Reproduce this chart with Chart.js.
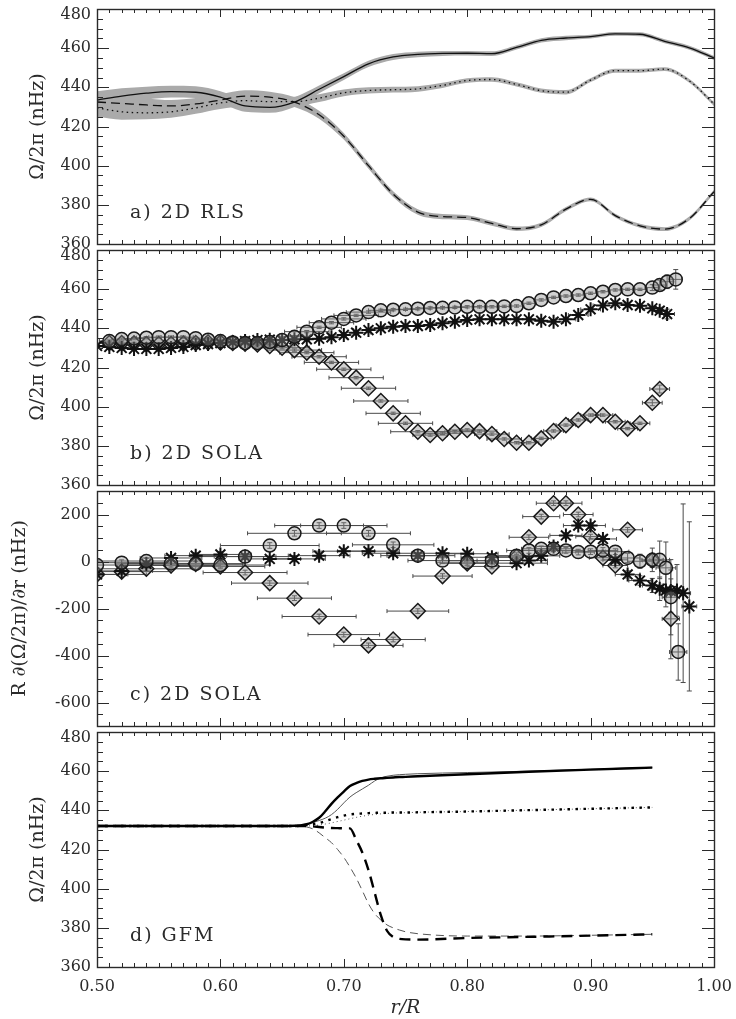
<!DOCTYPE html>
<html>
<head>
<meta charset="utf-8">
<script src="https://cdn.jsdelivr.net/npm/chart.js@4.4.1/dist/chart.umd.min.js"></script>
<style>
html,body{margin:0;padding:0;background:#fff;}
#wrap{position:relative;width:736px;height:1019px;overflow:hidden;background:#fff;}
#wrap canvas{position:absolute;left:0;}
</style>
</head>
<body>
<div id="wrap">
<canvas id="cA" width="736" height="256" style="top:0px"></canvas>
<canvas id="cB" width="736" height="258" style="top:238px"></canvas>
<canvas id="cC" width="736" height="259" style="top:479px"></canvas>
<canvas id="cD" width="736" height="299" style="top:720px"></canvas>
</div>
<script>
// ---------------- tick labels ----------------
const xTickVals = [0.50, 0.60, 0.70, 0.80, 0.90, 1.00];
const yTickOmega = [360, 380, 400, 420, 440, 460, 480];
const yTickDeriv = [-600, -400, -200, 0, 200];

// ---------------- panel a) 2D RLS ----------------
const rA = [0.50,0.52,0.54,0.56,0.58,0.60,0.62,0.64,0.66,0.68,0.70,0.72,0.74,0.76,0.78,0.80,0.82,0.84,0.86,0.88,0.90,0.92,0.94,0.96,0.98,1.00];
const solidA  = [433.5,435.5,437,437.8,437.5,435,430.5,429.8,432.5,439,445.5,452,455.5,456.8,457.3,457.4,457.2,460.4,464,465.2,465.9,467.3,467.1,463.5,460.2,455];
const dottedA = [429.5,427.5,427,427.5,429.5,432,433.2,432.7,432.7,434.5,437.2,438.4,438.8,439.2,441,443.5,444,441.5,438.3,437.5,443.7,448.5,448.5,449.3,443.3,431.5];
const dashedA = [432.5,431.8,431,430.5,431.5,433.5,435.5,435,432.5,426,415,400,385.5,376.3,374,373.5,370.5,367.8,369.8,377.8,382.8,374.5,369.3,367.6,373,386.7];
const sigmaA  = [4.5,4,3.3,3,3,3,3,2.8,2.5,2,1.7,1.6,1.5,1.4,1.3,1.2,1.2,1.1,1.1,1.1,1.0,1.0,1.0,1.0,1.0,1.0];

// ---------------- panel b) 2D SOLA rotation ----------------
const rCircB = [0.51,0.52,0.53,0.54,0.55,0.56,0.57,0.58,0.59,0.60,0.61,0.62,0.63,0.64,0.65,0.66,0.67,0.68,0.69,0.70,0.71,0.72,0.73,0.74,0.75,0.76,0.77,0.78,0.79,0.80,0.81,0.82,0.83,0.84,0.85,0.86,0.87,0.88,0.89,0.90,0.91,0.92,0.93,0.94,0.95,0.956,0.962,0.969];
const circB  = [433.5,434.5,434.8,435.2,435.5,435.5,435.5,435,434.2,433.5,432.8,432.5,432.5,433,434,435.7,438.3,440.5,442.9,444.8,446.6,448.3,449.2,449.5,449.7,450,450.4,450.5,450.7,451,451,451,451.2,451.4,452.8,454.5,455.8,456.5,457,457.9,458.7,459.6,459.9,459.9,460.8,462.1,463.8,465];
const xErrCircB = [0.008,0.008,0.008,0.008,0.008,0.008,0.008,0.008,0.008,0.008,0.008,0.008,0.008,0.012,0.012,0.012,0.018,0.018,0.018,0.018,0.018,0.018,0.01,0.01,0.01,0.01,0.01,0.01,0.01,0.01,0.006,0.006,0.006,0.006,0.006,0.006,0.006,0.006,0.006,0.006,0.006,0.006,0.006,0.006,0.006,0.005,0.005,0.005];
const yErrCircB = [0.6,0.6,0.6,0.6,0.6,0.6,0.6,0.6,0.6,0.6,0.6,0.6,0.6,0.6,0.6,0.6,0.6,0.6,0.6,0.6,0.6,0.6,0.6,0.6,0.6,0.6,0.6,0.6,0.6,0.6,0.6,0.6,0.6,0.6,0.6,0.6,0.6,0.6,0.6,0.6,0.6,0.6,0.6,0.6,1.5,2.5,3.5,5];

const rStarB = [0.50,0.51,0.52,0.53,0.54,0.55,0.56,0.57,0.58,0.59,0.60,0.61,0.62,0.63,0.64,0.65,0.66,0.67,0.68,0.69,0.70,0.71,0.72,0.73,0.74,0.75,0.76,0.77,0.78,0.79,0.80,0.81,0.82,0.83,0.84,0.85,0.86,0.87,0.88,0.89,0.90,0.91,0.92,0.93,0.94,0.95,0.956,0.962];
const starB  = [431,430.5,430,429.5,429.5,429.5,430,430.5,431.5,432,432.5,433,433.5,434,434.2,434,434.4,434.4,434.7,435.4,436.6,437.8,439.1,440,440.8,441.2,441.2,441.7,442.6,443.4,444.3,444.6,444.6,444.6,444.6,444.6,443.9,443.4,444.6,446.8,449.7,451.7,452.8,451.9,451.5,450.2,449,447.3];
const xErrStarB = [0.008,0.008,0.008,0.008,0.008,0.008,0.008,0.008,0.008,0.008,0.008,0.008,0.008,0.008,0.012,0.012,0.012,0.012,0.012,0.012,0.012,0.012,0.012,0.008,0.008,0.008,0.008,0.008,0.008,0.008,0.008,0.008,0.008,0.008,0.008,0.008,0.008,0.008,0.008,0.008,0.008,0.008,0.008,0.008,0.008,0.008,0.006,0.006];
const yErrStarB = [0.6,0.6,0.6,0.6,0.6,0.6,0.6,0.6,0.6,0.6,0.6,0.6,0.6,0.6,0.6,0.6,0.6,0.6,0.6,0.6,0.6,0.6,0.6,0.6,0.6,0.6,0.6,0.6,0.6,0.6,0.6,0.6,0.6,0.6,0.6,0.6,0.6,0.6,0.6,0.6,0.6,0.6,0.6,0.6,0.6,1.0,1.5,2.5];

const rDiaB = [0.51,0.52,0.53,0.54,0.55,0.56,0.57,0.58,0.59,0.60,0.61,0.62,0.63,0.64,0.65,0.66,0.67,0.68,0.69,0.70,0.71,0.72,0.73,0.74,0.75,0.76,0.77,0.78,0.79,0.80,0.81,0.82,0.83,0.84,0.85,0.86,0.87,0.88,0.89,0.90,0.91,0.92,0.93,0.94,0.95,0.956];
const diaB  = [432.5,432.5,432.3,432,432,432,432.2,432.5,432.8,432.8,432.5,432.2,431.8,431,430.1,428.9,427.6,425.5,422.6,419.1,414.8,409.4,402.9,396.6,391.5,387.2,385.5,386.4,387.2,388.1,387.5,386,383.5,381.6,381.6,383.8,387.6,390.6,393.2,395.7,395.7,392.3,388.8,391.5,402,409];
const xErrDiaB = [0.01,0.01,0.01,0.01,0.01,0.01,0.01,0.01,0.01,0.01,0.01,0.018,0.018,0.018,0.022,0.022,0.022,0.022,0.022,0.022,0.022,0.022,0.022,0.022,0.022,0.022,0.014,0.014,0.014,0.014,0.014,0.014,0.014,0.008,0.008,0.008,0.008,0.008,0.008,0.008,0.008,0.008,0.008,0.008,0.008,0.008];
const yErrDiaB = [0.6,0.6,0.6,0.6,0.6,0.6,0.6,0.6,0.6,0.6,0.6,0.6,0.6,0.6,0.6,0.6,0.6,0.6,0.6,0.6,0.6,0.6,0.6,0.6,0.6,0.6,0.6,0.6,0.6,0.6,0.6,0.6,0.6,0.6,0.6,0.6,0.6,0.6,0.6,0.6,0.6,0.6,0.6,0.6,1.5,2];

// ---------------- panel c) 2D SOLA radial gradient ----------------
const rCircC = [0.50,0.52,0.54,0.56,0.58,0.60,0.62,0.64,0.66,0.68,0.70,0.72,0.74,0.76,0.78,0.80,0.82,0.84,0.85,0.86,0.87,0.88,0.89,0.90,0.91,0.92,0.93,0.94,0.95,0.956,0.961,0.965,0.971];
const circC  = [-15,-5,2,-8,-10,-15,21,68,120,153,153,120,71,25,4,-3,4,25,47,54,54,47,40,42,47,42,15,1,7,7,-27,-152,-385];
const xErrCircC = [0.04,0.04,0.04,0.04,0.04,0.04,0.04,0.04,0.038,0.036,0.035,0.034,0.033,0.03,0.028,0.025,0.022,0.02,0.018,0.016,0.015,0.014,0.013,0.012,0.012,0.011,0.01,0.01,0.009,0.008,0.008,0.007,0.007];
const yErrCircC = [12,12,12,12,12,12,12,12,12,12,12,12,12,12,12,12,12,12,12,12,12,12,12,12,12,12,20,30,50,80,110,160,120];

const rDiaC = [0.50,0.52,0.54,0.56,0.58,0.60,0.62,0.64,0.66,0.68,0.70,0.72,0.74,0.76,0.78,0.80,0.82,0.84,0.85,0.86,0.87,0.88,0.89,0.90,0.91,0.92,0.93,0.95,0.965];
const diaC  = [-55,-43,-31,-17,-10,-21,-47,-92,-156,-234,-311,-357,-332,-211,-62,-8,-21,20,103,191,248,248,200,106,16,-17,135,5,-244];
const xErrDiaC = [0.04,0.04,0.04,0.04,0.038,0.036,0.034,0.031,0.03,0.03,0.029,0.028,0.026,0.025,0.024,0.022,0.02,0.018,0.016,0.015,0.014,0.013,0.012,0.012,0.011,0.01,0.012,0.008,0.007];
const yErrDiaC = [10,10,10,10,10,10,10,10,10,10,10,10,10,10,10,10,10,10,10,10,10,10,10,10,10,10,10,30,170];

const rStarC = [0.50,0.52,0.54,0.56,0.58,0.60,0.62,0.64,0.66,0.68,0.70,0.72,0.74,0.76,0.78,0.80,0.82,0.84,0.85,0.86,0.87,0.88,0.89,0.90,0.91,0.92,0.93,0.94,0.95,0.956,0.961,0.965,0.97,0.975,0.98];
const starC  = [-55,-40,-10,15,25,30,21,11,11,25,44,44,35,25,35,33,18,-7,4,24,64,111,153,153,96,7,-55,-81,-102,-116,-123,-126,-123,-135,-191];
const xErrStarC = [0.025,0.025,0.025,0.025,0.025,0.025,0.025,0.025,0.025,0.025,0.025,0.025,0.025,0.025,0.025,0.025,0.025,0.025,0.015,0.015,0.014,0.013,0.012,0.012,0.011,0.01,0.01,0.009,0.008,0.008,0.007,0.007,0.006,0.006,0.006];
const yErrStarC = [12,12,12,12,12,12,12,12,12,12,12,12,12,12,12,12,12,12,12,12,12,12,12,12,12,12,15,20,30,50,70,90,110,380,360];

// ---------------- panel d) GFM ----------------
const rD = [0.50,0.60,0.65,0.66,0.665,0.67,0.675,0.68,0.685,0.69,0.695,0.70,0.705,0.71,0.715,0.72,0.725,0.73,0.735,0.74,0.745,0.75,0.76,0.80,0.85,0.90,0.95];
const solidThickD  = [432,432,432,432.1,432.3,432.9,434.2,436.2,439.5,443.3,446.6,449.6,452.4,453.9,455,455.7,456.1,456.4,456.6,456.8,457,457.1,457.4,458.4,459.7,460.8,461.8];
const solidThinD   = [432,432,432,432.2,432.5,433,433.8,434.8,436,437.8,440.5,443.8,446.8,449,450.9,452.8,455,456.6,457.4,457.9,458.2,458.4,458.7,459.3,460,461,462];
const dottedThickD = [432,432,432,432,432.1,432.5,433,433.5,434.5,435.5,436.5,437.3,437.9,438.2,438.4,438.6,438.7,438.8,438.8,438.9,438.9,438.9,439,439.4,440.1,440.8,441.5];
const dottedThinD  = [432,432,432,432,432,432,432.2,432.5,433,433.6,434.3,435,435.7,436.4,437,437.5,437.9,438.2,438.4,438.6,438.7,438.8,439,439.4,440.1,440.8,441.5];
const dashedThickD = [432,432,432,432,432,432,431.8,431.5,431.2,431,430.9,430.8,430.8,425,418.5,409.5,398,386.5,378.5,375.3,374.4,374.1,374,374.8,375.4,376,376.7];
const dashedThinD  = [432,432,432,432,432,431.5,430.5,428.5,426,423.5,420,416,411,405.5,399,392.3,387.3,384,381.5,380,378.9,378,377,375.8,375.8,376.2,376.7];

// ---------------- helpers / plugins ----------------
const FONT = 'DejaVu Serif';
const TXT = '#2b2b2b';
const pts = (xs, ys) => xs.map((x, i) => ({x: x, y: ys[i]}));

const framePlugin = {
  id: 'frame',
  afterDraw(chart, args, opts) {
    const {ctx, chartArea: a} = chart;
    const x = chart.scales.x, y = chart.scales.y;
    ctx.save();
    ctx.strokeStyle = '#2a2a2a';
    ctx.lineWidth = 1;
    ctx.beginPath();
    const i0 = Math.round(x.min * 100), i1 = Math.round(x.max * 100);
    for (let i = i0; i <= i1; i++) {
      const px = Math.round(x.getPixelForValue(i / 100)) + 0.5;
      const len = (i % 10 === 0) ? 8 : 4;
      ctx.moveTo(px, a.bottom); ctx.lineTo(px, a.bottom - len);
      ctx.moveTo(px, a.top); ctx.lineTo(px, a.top + len);
    }
    const mn = opts.minor, mj = opts.major;
    for (let v = y.min; v <= y.max + 1e-6; v += mn) {
      const py = Math.round(y.getPixelForValue(v)) + 0.5;
      const isMajor = Math.abs(((v % mj) + mj) % mj) < 1e-6;
      const len = isMajor ? 12 : 6;
      ctx.moveTo(a.left, py); ctx.lineTo(a.left + len, py);
      ctx.moveTo(a.right, py); ctx.lineTo(a.right - len, py);
    }
    ctx.stroke();
    ctx.lineWidth = 1.4;
    ctx.strokeRect(Math.round(a.left) + 0.5, Math.round(a.top) + 0.5, Math.round(a.width), Math.round(a.height));
    ctx.restore();
  }
};

const errPlugin = {
  id: 'errbars',
  beforeDatasetsDraw(chart) {
    const {ctx, chartArea: a} = chart;
    const x = chart.scales.x, y = chart.scales.y;
    ctx.save();
    ctx.beginPath(); ctx.rect(a.left, a.top, a.width, a.height); ctx.clip();
    ctx.strokeStyle = '#4a4a4a';
    ctx.lineWidth = 1;
    chart.data.datasets.forEach(ds => {
      if (!ds.xErr) return;
      ds.data.forEach((p, i) => {
        const px = x.getPixelForValue(p.x), py = y.getPixelForValue(p.y);
        const x0 = x.getPixelForValue(p.x - ds.xErr[i]), x1 = x.getPixelForValue(p.x + ds.xErr[i]);
        const y0 = y.getPixelForValue(p.y - ds.yErr[i]), y1 = y.getPixelForValue(p.y + ds.yErr[i]);
        ctx.beginPath();
        ctx.moveTo(x0, py); ctx.lineTo(x1, py);
        ctx.moveTo(x0, py - 2); ctx.lineTo(x0, py + 2);
        ctx.moveTo(x1, py - 2); ctx.lineTo(x1, py + 2);
        ctx.moveTo(px, y0); ctx.lineTo(px, y1);
        ctx.moveTo(px - 2.5, y0); ctx.lineTo(px + 2.5, y0);
        ctx.moveTo(px - 2.5, y1); ctx.lineTo(px + 2.5, y1);
        ctx.stroke();
      });
    });
    ctx.restore();
  }
};

const labelPlugin = {
  id: 'panelLabel',
  afterDraw(chart, args, opts) {
    if (!opts.text) return;
    const {ctx, chartArea: a} = chart;
    ctx.save();
    ctx.font = '19px "' + FONT + '"';
    ctx.fillStyle = TXT;
    ctx.textBaseline = 'middle';
    ctx.textAlign = 'left';
    try { ctx.letterSpacing = '2px'; } catch (e) {}
    ctx.fillText(opts.text, a.left + 33, a.bottom - 31);
    ctx.restore();
  }
};

Chart.register(framePlugin, errPlugin, labelPlugin);

function xScale(show) {
  return {
    type: 'linear', min: 0.5, max: 1.0, display: show,
    afterBuildTicks: s => { s.ticks = xTickVals.map(v => ({value: v})); },
    afterFit: s => { if (show) { s.height = 52; } else { s.height = 0; } s.paddingLeft = 0; s.paddingRight = 0; },
    grid: {display: false, drawTicks: false},
    border: {display: false},
    ticks: {font: {family: FONT, size: 16}, color: TXT, padding: 10, maxRotation: 0, autoSkip: false,
            callback: v => Number(v).toFixed(2)},
    title: {display: show, text: 'r/R', font: {family: FONT, size: 19, style: 'italic'}, color: TXT,
            padding: {top: 0, bottom: 0}}
  };
}
function yScale(min, max, tickVals, title, titlePad) {
  return {
    type: 'linear', min: min, max: max,
    afterBuildTicks: s => { s.ticks = tickVals.map(v => ({value: v})); },
    afterFit: s => { s.width = 97; s.paddingTop = 0; s.paddingBottom = 0; },
    grid: {display: false, drawTicks: false},
    border: {display: false},
    ticks: {font: {family: FONT, size: 16, lineHeight: 0.75}, color: TXT, padding: 6,
            callback: v => (v === max ? ['', String(v)] : String(v))},
    title: {display: true, text: title, font: {family: FONT, size: 19}, color: TXT,
            padding: {top: titlePad, bottom: 0}}
  };
}
function opts(p) {
  return {
    responsive: false, animation: false, devicePixelRatio: 1,
    layout: {padding: {left: 0, right: 22, top: p.padTop, bottom: p.padBottom}},
    plugins: {
      legend: {display: false}, tooltip: {enabled: false},
      panelLabel: {text: p.label},
      frame: {minor: p.minor, major: p.major}
    },
    elements: {line: {cubicInterpolationMode: 'monotone'}},
    scales: {x: xScale(p.showX), y: yScale(p.yMin, p.yMax, p.yTicks, p.yTitle, p.titlePad)}
  };
}

// ---------------- panel a ----------------
function bandSets(vals) {
  const up = vals.map((v, i) => v + sigmaA[i]);
  const lo = vals.map((v, i) => v - sigmaA[i]);
  return [
    {data: pts(rA, up), borderWidth: 0, pointRadius: 0, fill: false, order: 10},
    {data: pts(rA, lo), borderWidth: 0, pointRadius: 0, fill: '-1', backgroundColor: '#aaaaaa', order: 10}
  ];
}
const lineA = (vals, dash) => ({data: pts(rA, vals), borderColor: '#111', borderWidth: 1.3, borderDash: dash,
  pointRadius: 0, fill: false, order: 1});
new Chart(document.getElementById('cA'), {
  type: 'line',
  data: {datasets: [
    ...bandSets(solidA), ...bandSets(dashedA), ...bandSets(dottedA),
    lineA(solidA, []), lineA(dashedA, [9, 5]), lineA(dottedA, [1.5, 3.5])
  ]},
  options: opts({padTop: 9, padBottom: 12, label: 'a) 2D RLS', minor: 5, major: 20, showX: false,
    yMin: 360, yMax: 480, yTicks: yTickOmega, yTitle: 'Ω/2π (nHz)', titlePad: 27})
});

// ---------------- panel b / c markers ----------------
const circ = (xs, ys, xe, ye) => ({data: pts(xs, ys), xErr: xe, yErr: ye, pointStyle: 'circle', pointRadius: 6.5,
  borderColor: '#1a1a1a', borderWidth: 1.5, backgroundColor: 'rgba(140,140,140,0.4)'});
const star = (xs, ys, xe, ye) => ({data: pts(xs, ys), xErr: xe, yErr: ye, pointStyle: 'star', pointRadius: 7,
  borderColor: '#111', borderWidth: 2, backgroundColor: '#111'});
const dia = (xs, ys, xe, ye) => ({data: pts(xs, ys), xErr: xe, yErr: ye, pointStyle: 'rectRot', pointRadius: 7.5,
  borderColor: '#1a1a1a', borderWidth: 1.5, backgroundColor: 'rgba(140,140,140,0.4)'});

new Chart(document.getElementById('cB'), {
  type: 'scatter',
  data: {datasets: [
    circ(rCircB, circB, xErrCircB, yErrCircB),
    star(rStarB, starB, xErrStarB, yErrStarB),
    dia(rDiaB, diaB, xErrDiaB, yErrDiaB)
  ]},
  options: opts({padTop: 12, padBottom: 11, label: 'b) 2D SOLA', minor: 5, major: 20, showX: false,
    yMin: 360, yMax: 480, yTicks: yTickOmega, yTitle: 'Ω/2π (nHz)', titlePad: 27})
});

new Chart(document.getElementById('cC'), {
  type: 'scatter',
  data: {datasets: [
    circ(rCircC, circC, xErrCircC, yErrCircC),
    star(rStarC, starC, xErrStarC, yErrStarC),
    dia(rDiaC, diaC, xErrDiaC, yErrDiaC)
  ]},
  options: opts({padTop: 12, padBottom: 12, label: 'c) 2D SOLA', minor: 50, major: 200, showX: false,
    yMin: -700, yMax: 300, yTicks: yTickDeriv, yTitle: 'R ∂(Ω/2π)/∂r (nHz)', titlePad: 9})
});

// ---------------- panel d ----------------
const lineD = (vals, w, col, dash, ord) => ({data: pts(rD, vals), borderColor: col, borderWidth: w, borderDash: dash,
  pointRadius: 0, fill: false, order: ord});
new Chart(document.getElementById('cD'), {
  type: 'line',
  data: {datasets: [
    lineD(solidThickD, 2.4, '#000', [], 1),
    lineD(dashedThickD, 2.4, '#000', [11, 7], 1),
    lineD(dottedThickD, 2.4, '#000', [2.5, 5.5], 1),
    lineD(solidThinD, 1, '#555', [], 2),
    lineD(dashedThinD, 1, '#555', [8, 5], 2),
    lineD(dottedThinD, 1, '#555', [1, 3], 2)
  ]},
  options: opts({padTop: 12, padBottom: 0, label: 'd) GFM', minor: 5, major: 20, showX: true,
    yMin: 360, yMax: 480, yTicks: yTickOmega, yTitle: 'Ω/2π (nHz)', titlePad: 27})
});
</script>
</body>
</html>
